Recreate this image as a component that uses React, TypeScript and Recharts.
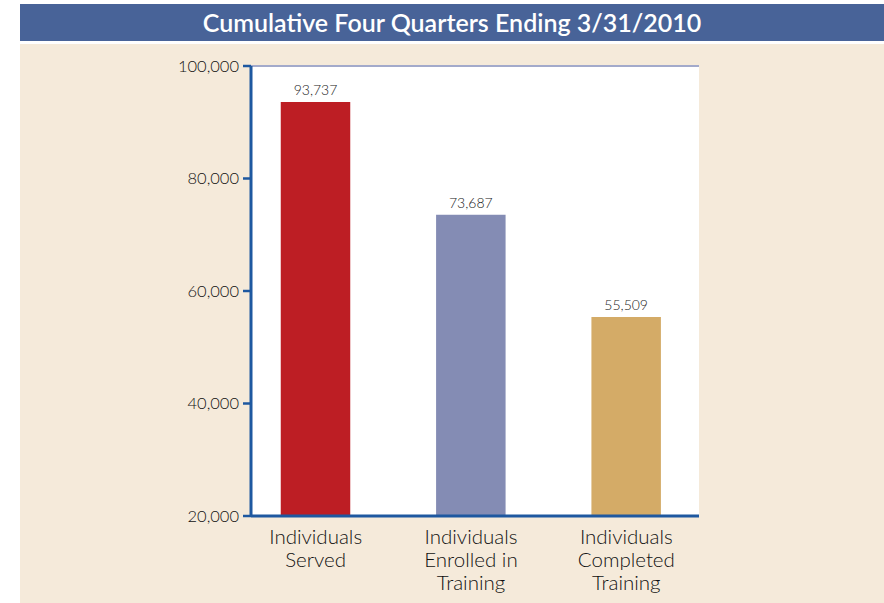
import { BarChart, Bar, XAxis, YAxis, CartesianGrid, Cell, LabelList } from 'recharts';

const categories = ['Individuals Served', 'Individuals Enrolled in Training', 'Individuals Completed Training'];
const labelLines = [['Individuals', 'Served'], ['Individuals', 'Enrolled in', 'Training'], ['Individuals', 'Completed', 'Training']];
const values = [93737, 73687, 55509];
const barColors = ['#bd1e24', '#848cb4', '#d4ab67'];
const yTicks = [20000, 40000, 60000, 80000, 100000];

const data = categories.map((name, i) => ({ name, value: values[i], lines: labelLines[i] }));

const FONT = 'Lato, "Open Sans", sans-serif';
const AXIS_BLUE = '#1e58a0';

const fmt = (v: number) => v.toLocaleString('en-US');

function CategoryTick(props: any) {
  const { x, y, payload } = props;
  const lines = labelLines[payload.index] || [payload.value];
  return (
    <text x={x} y={y} textAnchor="middle" fill="#111" fontSize={20.5} fontWeight={300} fontFamily={FONT}>
      {lines.map((l: string, i: number) => (
        <tspan key={i} x={x} dy={i === 0 ? 20 : 23}>{l}</tspan>
      ))}
    </text>
  );
}

export default function App() {
  return (
    <div style={{ position: 'absolute', left: 0, top: 0, width: 884, height: 603, background: '#fff', fontFamily: FONT }}>
      <div style={{ position: 'absolute', left: 20, top: 4, width: 864, height: 37, background: '#486398', color: '#fff', fontSize: 25, fontWeight: 600, lineHeight: '37px', textAlign: 'center', boxSizing: 'border-box' }}>
        Cumulative Four Quarters Ending 3/31/2010
      </div>
      <div style={{ position: 'absolute', left: 20, top: 44, width: 864, height: 559, background: '#f5eada' }} />
      <div style={{ position: 'absolute', left: 0, top: 0 }}>
        <BarChart width={884} height={603} data={data} margin={{ top: 66, right: 185, bottom: 57, left: 171 }}>
          <CartesianGrid vertical={false} fill="#ffffff" stroke="#a3aacb" strokeWidth={2} />
          <XAxis
            dataKey="name"
            height={30}
            tick={<CategoryTick />}
            tickLine={false}
            axisLine={{ stroke: AXIS_BLUE, strokeWidth: 3 }}
            padding={{ left: -13, right: -5 }}
            interval={0}
          />
          <YAxis
            yAxisId="left"
            width={80}
            domain={[20000, 100000]}
            ticks={yTicks}
            tickFormatter={fmt}
            tick={{ fill: '#111', fontSize: 16.5, fontWeight: 300, fontFamily: FONT }}
            tickSize={8}
            tickMargin={4}
            tickLine={{ stroke: AXIS_BLUE, strokeWidth: 2.5 }}
            axisLine={{ stroke: AXIS_BLUE, strokeWidth: 3 }}
            allowDataOverflow
          />
          <YAxis
            yAxisId="right"
            orientation="right"
            width={0}
            domain={[20000, 100000]}
            tick={false}
            tickLine={false}
            axisLine={{ stroke: AXIS_BLUE, strokeWidth: 3 }}
          />
          <Bar yAxisId="left" dataKey="value" barSize={71} stroke="#ffffff" strokeWidth={1.5} isAnimationActive={false}>
            {data.map((d, i) => (
              <Cell key={d.name} fill={barColors[i]} />
            ))}
            <LabelList dataKey="value" position="top" offset={6} formatter={(v: any) => fmt(Number(v))} fill="#222" fontSize={14} fontWeight={300} fontFamily={FONT} />
          </Bar>
        </BarChart>
      </div>
    </div>
  );
}
